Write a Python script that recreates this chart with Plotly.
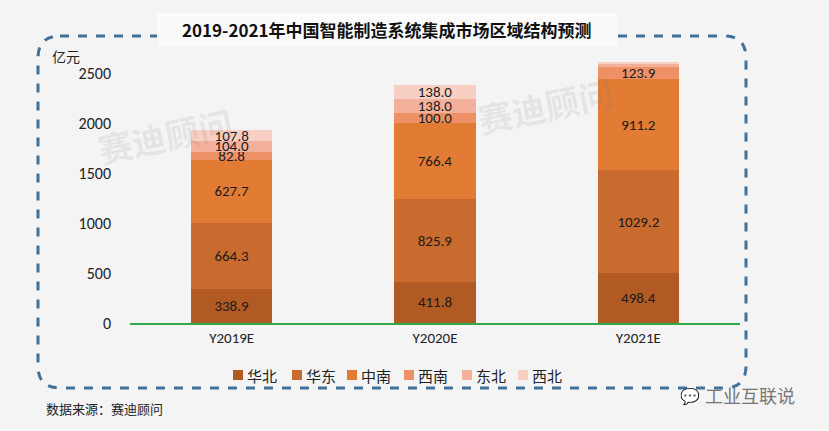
import plotly.graph_objects as go

categories = ["Y2019E", "Y2020E", "Y2021E"]
regions = ["华北", "华东", "中南", "西南", "东北", "西北"]
huabei = [338.9, 411.8, 498.4]
huadong = [664.3, 825.9, 1029.2]
zhongnan = [627.7, 766.4, 911.2]
xinan = [82.8, 100.0, 123.9]
dongbei = [104.0, 138.0, 33.0]
xibei = [107.8, 138.0, 14.0]
show_label = [
    [True, True, True],
    [True, True, True],
    [True, True, True],
    [True, True, True],
    [True, True, False],
    [True, True, False],
]
colors = ["#b25a23", "#c96a2e", "#e27b33", "#ef9167", "#f3b09a", "#f7d0c3"]
series = [huabei, huadong, zhongnan, xinan, dongbei, xibei]

font_cjk = "Noto Sans CJK SC, Microsoft YaHei, sans-serif"
font_num = "Carlito, Calibri, Liberation Sans, sans-serif"

W, H = 829, 431
ML, MR, MT, MB = 130, 89, 58, 108

def px(x):
    return (x - ML) / (W - ML - MR)

def py(y):
    return (H - MB - y) / (H - MT - MB)

fig = go.Figure()
for name, vals, col, show in zip(regions, series, colors, show_label):
    fig.add_trace(go.Bar(
        x=categories, y=vals, name=name,
        marker=dict(color=col, line=dict(width=0)),
        text=[f"{v:.1f}" if s else "" for v, s in zip(vals, show)],
        textposition="inside", insidetextanchor="middle", textangle=0,
        textfont=dict(size=15, color="#1a1a1a", family=font_num),
        width=0.4, showlegend=False,
    ))

fig.update_layout(
    barmode="stack",
    width=W, height=H,
    margin=dict(l=ML, r=MR, t=MT, b=MB),
    paper_bgcolor="#f4f4f4",
    plot_bgcolor="rgba(0,0,0,0)",
    uniformtext=dict(minsize=15, mode="show"),
    font=dict(family=font_cjk, color="#222"),
)
fig.update_xaxes(showgrid=False, showline=True, linecolor="#2eaa4a", linewidth=1.5,
                 ticks="", tickfont=dict(size=15, family=font_num, color="#222"))
fig.update_yaxes(range=[0, 2650], tickvals=[0, 500, 1000, 1500, 2000, 2500],
                 showgrid=False, zeroline=False, showline=False, ticks="",
                 ticklabelstandoff=18,
                 tickfont=dict(size=16, family=font_num, color="#222"))

def note(text, x, y, size, color="#222", xanchor="left", **kw):
    fig.add_annotation(text=text, xref="paper", yref="paper", x=px(x), y=py(y),
                       xanchor=xanchor, yanchor="middle", showarrow=False,
                       font=dict(size=size, color=color, family=kw.pop("family", font_cjk)), **kw)

# manual legend
leg_x = [238, 297, 352, 409, 467, 523]
for lx, name, col in zip(leg_x, regions, colors):
    fig.add_shape(type="rect", xref="paper", yref="paper",
                  x0=px(lx - 5), x1=px(lx + 5), y0=py(380), y1=py(370),
                  fillcolor=col, line=dict(width=0))
    note(name, lx + 7, 375, 15)

# dashed rounded frame
x0, x1, y0, y1, r = 38, 746, 36, 388, 22
path = (f"M {px(x0+r)},{py(y0)} L {px(x1-r)},{py(y0)} Q {px(x1)},{py(y0)} {px(x1)},{py(y0+r)} "
        f"L {px(x1)},{py(y1-r)} Q {px(x1)},{py(y1)} {px(x1-r)},{py(y1)} "
        f"L {px(x0+r)},{py(y1)} Q {px(x0)},{py(y1)} {px(x0)},{py(y1-r)} "
        f"L {px(x0)},{py(y0+r)} Q {px(x0)},{py(y0)} {px(x0+r)},{py(y0)} Z")
fig.add_shape(type="path", xref="paper", yref="paper", path=path,
              line=dict(color="#41709b", width=3, dash="dash"), layer="below")
# title box
fig.add_shape(type="rect", xref="paper", yref="paper",
              x0=px(157), x1=px(617), y0=py(46), y1=py(13),
              fillcolor="#fafafa", line=dict(width=0), layer="below")
note("<b>2019-2021年中国智能制造系统集成市场区域结构预测</b>", 387, 29, 17,
     color="#111", xanchor="center")
note("亿元", 50, 56, 14)
note("数据来源：赛迪顾问", 44, 408, 13)
note("工业互联说", 703, 395, 18, color="#777")
note("💬", 678, 395, 16, color="#aaa")
# watermarks
for wx, wy in [(165, 135), (545, 105)]:
    note("<b>赛迪顾问</b>", wx, wy, 34, color="rgba(120,120,120,0.12)",
         xanchor="center", textangle=-12)

fig.write_html("out.html", config={"displayModeBar": False},
               post_script="document.body.style.margin='0';document.body.style.padding='0';")
